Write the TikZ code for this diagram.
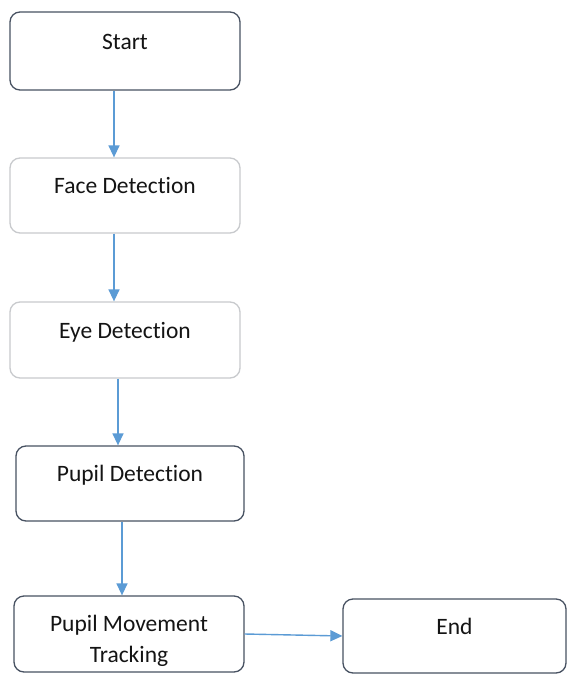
\documentclass[tikz,border=0pt]{standalone}
\usepackage{fontspec}
\setmainfont{Carlito}[Ligatures=NoCommon]
\usetikzlibrary{arrows.meta}
\definecolor{flowblue}{RGB}{91,155,213}
\definecolor{darkedge}{RGB}{72,82,98}
\definecolor{lightedge}{RGB}{200,202,205}
\definecolor{inktext}{RGB}{20,20,20}
\tikzset{
  stepbox/.style={draw=darkedge, line width=1.3pt, rounded corners=10pt,
    fill=white, text=inktext, font=\fontsize{23.5}{31}\selectfont,
    text height=15pt, text depth=19pt, inner sep=0pt},
  softbox/.style={stepbox, draw=lightedge},
  twolinetext/.style={text=inktext, font=\fontsize{23.5}{31}\selectfont,
    align=center, inner sep=0pt},
  flow/.style={draw=flowblue, line width=1.4pt,
    -{Triangle[width=11pt,length=12pt]}}
}
\begin{document}
\begin{tikzpicture}[x=1pt,y=-1pt]
  \useasboundingbox[fill=white] (0,0) rectangle (568,678);

  % process steps
  \node[stepbox, minimum width=230pt, minimum height=78pt] (start) at (125,51) {Start};
  \node[softbox, minimum width=230pt, minimum height=75pt] (face) at (125,195.5) {Face Detection};
  \node[softbox, minimum width=230pt, minimum height=76pt] (eye) at (125,340) {Eye Detection};
  \node[stepbox, minimum width=228pt, minimum height=75pt] (pupil) at (130,483.5) {Pupil Detection};
  \node[stepbox, minimum width=230pt, minimum height=76pt] (pmt) at (129,634) {};
  \node[twolinetext] (pmt-label) at ([yshift=-7pt]pmt.center) {Pupil Movement\\Tracking};
  \node[stepbox, minimum width=223pt, minimum height=74pt] (end) at (454.5,636) {End};

  % connectors
  \draw[flow] ([xshift=-11pt]start.south) -- ([xshift=-11pt]face.north);
  \draw[flow] ([xshift=-11pt]face.south) -- ([xshift=-11pt]eye.north);
  \draw[flow] ([xshift=-7pt]eye.south) -- ([xshift=-12pt]pupil.north);
  \draw[flow] ([xshift=-8pt]pupil.south) -- ([xshift=-7pt]pmt.north);
  \draw[flow] (pmt.east) -- (end.west);
\end{tikzpicture}
\end{document}
